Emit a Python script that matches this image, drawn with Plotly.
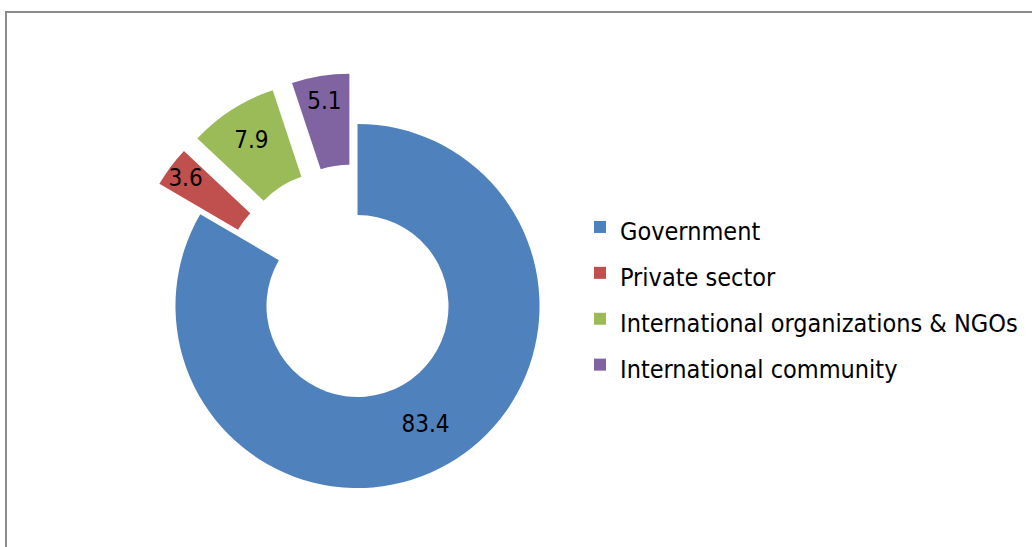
import plotly.graph_objects as go

labels = ["Government", "Private sector", "International organizations & NGOs", "International community"]
values = [83.4, 3.6, 7.9, 5.1]
colors = ["#4F81BD", "#C0504D", "#9BBB59", "#8064A2"]
pulls = [0, 0.28, 0.28, 0.28]

W, H = 1032, 547
FONT = "Liberation Sans Narrow, DejaVu Sans Condensed, Roboto Condensed, Arial Narrow, Liberation Sans, sans-serif"

legend_names = [f"<span style='font-size:25px'>{n}</span>" for n in labels]

cx, cy_top, size = 357.5, 306, 466
fig = go.Figure(go.Pie(
    labels=legend_names,
    values=values,
    marker=dict(colors=colors, line=dict(width=0)),
    pull=pulls,
    hole=0.5,
    sort=False,
    direction="clockwise",
    rotation=0,
    textinfo="value",
    texttemplate="%{value}",
    textposition="inside",
    insidetextorientation="horizontal",
    textfont=dict(family=FONT, size=24, color="black"),
    domain=dict(x=[(cx - size / 2) / W, (cx + size / 2) / W],
                y=[(H - cy_top - size / 2) / H, (H - cy_top + size / 2) / H]),
))

fig.add_shape(type="rect", xref="paper", yref="paper",
              x0=6 / W, x1=1.02, y0=-0.02, y1=(H - 12) / H,
              line=dict(color="#8C8C8C", width=2), fillcolor="rgba(0,0,0,0)")

fig.update_layout(
    width=W, height=H,
    margin=dict(l=0, r=0, t=0, b=0),
    paper_bgcolor="white",
    plot_bgcolor="white",
    uniformtext=dict(minsize=24, mode="show"),
    showlegend=True,
    legend=dict(x=580 / W, y=(H - 199) / H, xanchor="left", yanchor="top",
                font=dict(family=FONT, size=33, color="black"),
                bgcolor="rgba(0,0,0,0)", traceorder="normal"),
)

fig.write_html("out.html", config={"displayModeBar": False},
               post_script="document.body.style.margin='0';")
